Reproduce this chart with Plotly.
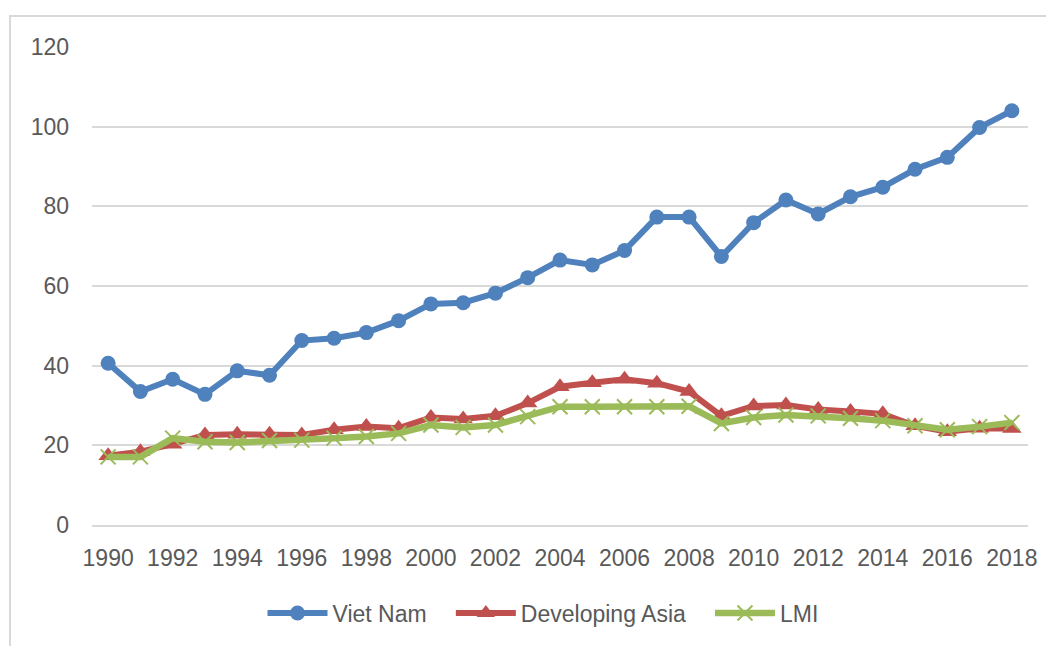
import plotly.graph_objects as go

years = list(range(1990, 2019))
viet_nam = [40.6, 33.5, 36.6, 32.8, 38.7, 37.6, 46.3, 46.9, 48.3, 51.3, 55.5, 55.8, 58.2, 62.1,
            66.5, 65.3, 68.9, 77.3, 77.3, 67.4, 75.9, 81.6, 78.1, 82.4, 84.8, 89.3, 92.3, 99.8, 104.0]
developing_asia = [17.4, 18.4, 20.3, 22.6, 22.8, 22.8, 22.6, 23.9, 24.7, 24.3, 27.0, 26.6, 27.4, 30.6,
                   34.7, 35.7, 36.6, 35.6, 33.5, 27.4, 29.9, 30.1, 29.0, 28.5, 27.9, 24.9, 23.4, 24.3, 24.2]
lmi = [17.1, 17.1, 21.8, 20.9, 20.7, 21.2, 21.3, 21.8, 22.2, 23.0, 25.1, 24.5, 25.1, 27.2,
       29.7, 29.7, 29.7, 29.7, 29.8, 25.5, 27.0, 27.6, 27.4, 26.8, 26.2, 24.9, 23.9, 24.7, 25.7]
series_names = ["Viet Nam", "Developing Asia", "LMI"]
x_ticks = list(range(1990, 2019, 2))
y_ticks = [0, 20, 40, 60, 80, 100, 120]

BLUE = "#4F81BD"
RED = "#C0504D"
GREEN = "#9BBB59"
TXT = "#595959"
GRID = "#D9D9D9"
FONT = "Liberation Sans, Arial, sans-serif"
PAD = "\u00a0\u00a0\u00a0"

fig = go.Figure()
fig.add_trace(go.Scatter(
    x=years, y=viet_nam, name=series_names[0] + PAD, mode="lines+markers",
    line=dict(color=BLUE, width=6),
    marker=dict(symbol="circle", size=15, color=BLUE),
))
fig.add_trace(go.Scatter(
    x=years, y=developing_asia, name=series_names[1] + PAD, mode="lines+markers",
    line=dict(color=RED, width=6),
    marker=dict(symbol="triangle-up", size=17, color=RED),
))
fig.add_trace(go.Scatter(
    x=years, y=lmi, name=series_names[2], mode="lines+markers",
    line=dict(color=GREEN, width=6.5),
    marker=dict(symbol="x-thin", size=15, color=GREEN, line=dict(color=GREEN, width=2)),
))

# page body has an 8px offset; target plot area in window: x 92..1028, y 47..525
OFF = 8
W, H = 1054, 646
L = 92 - OFF
T = 47 - OFF
R = W - (1028 - OFF)
B = H - (525 - OFF)
pw = W - L - R
ph = H - T - B
plot_bottom = 525  # window px

fig.update_layout(
    width=W, height=H,
    margin=dict(l=L, r=R, t=T, b=B, pad=0, autoexpand=False),
    paper_bgcolor="white", plot_bgcolor="white",
    font=dict(family=FONT, size=23, color=TXT),
    showlegend=True,
    legend=dict(
        orientation="h", x=(543 - 92) / pw, xanchor="center",
        y=-(613 - plot_bottom) / ph, yanchor="middle",
        font=dict(family=FONT, size=23, color=TXT),
        itemwidth=60, bgcolor="rgba(0,0,0,0)",
    ),
    xaxis=dict(
        range=[1989.5, 2018.5], tickmode="array", tickvals=x_ticks,
        ticktext=[str(v) for v in x_ticks],
        showgrid=False, zeroline=False, showline=True, linecolor=GRID, linewidth=2,
        ticks="", ticklabelstandoff=11,
        tickfont=dict(family=FONT, size=23, color=TXT),
    ),
    yaxis=dict(
        range=[0, 120], tickmode="array", tickvals=y_ticks,
        showgrid=True, gridcolor=GRID, gridwidth=2, zeroline=False, showline=False,
        ticks="", ticklabelstandoff=22,
        tickfont=dict(family=FONT, size=23, color=TXT),
    ),
)

# outer chart border (left and top edges visible)
bx0 = 10 - OFF
by0 = 16 - OFF
fig.add_shape(
    type="rect", xref="paper", yref="paper",
    x0=(bx0 - L) / pw, x1=(W + 30 - L) / pw,
    y0=-(H + 60 - T - ph) / ph, y1=1 + (T - by0) / ph,
    line=dict(color=GRID, width=2), fillcolor="rgba(0,0,0,0)", layer="below",
)

fig.write_html("out.html")
